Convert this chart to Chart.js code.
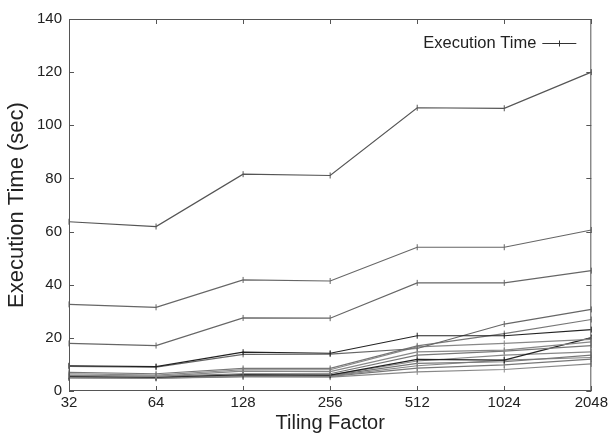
<!DOCTYPE html>
<html>
<head>
<meta charset="utf-8">
<script src="https://cdn.jsdelivr.net/npm/chart.js@4/dist/chart.umd.min.js"></script>
<style>
    html, body { margin: 0; padding: 0; background: #fff; }
    #wrap { position: relative; width: 611px; height: 436px; }
</style>
</head>
<body>
<div id="wrap"><canvas id="exec-chart"></canvas></div>
<script>
var tiling_factors = ['32', '64', '128', '256', '512', '1024', '2048'];
var y_ticks = [0, 20, 40, 60, 80, 100, 120, 140];
var legend_label = 'Execution Time';

// one array per run
var run_a = [63.7, 61.9, 81.6, 81.1, 106.6, 106.4, 120.0];
var run_b = [32.6, 31.5, 41.8, 41.4, 54.1, 54.1, 60.6];
var run_c = [17.9, 17.1, 27.5, 27.4, 40.7, 40.7, 45.3];
var run_d = [9.5, 9.2, 14.6, 14.2, 20.8, 20.8, 23.1];
var run_e = [9.3, 9.0, 13.8, 13.9, 16.0, 25.2, 30.7];
var run_f = [7.0, 6.5, 8.5, 8.5, 17.0, 21.6, 26.9];
var run_g = [6.5, 6.0, 8.0, 8.0, 16.6, 17.9, 19.4];
var run_h = [6.0, 5.5, 7.5, 7.3, 14.7, 15.4, 18.5];
var run_i = [5.8, 5.5, 6.5, 6.5, 13.5, 15.0, 17.1];
var run_j = [5.5, 5.2, 6.2, 6.0, 11.9, 11.6, 20.1];
var run_k = [5.3, 5.0, 6.0, 6.0, 11.3, 13.5, 14.7];
var run_l = [5.2, 5.0, 5.8, 5.8, 10.4, 11.0, 13.5];
var run_m = [5.0, 4.9, 5.6, 5.6, 9.5, 11.6, 12.6];
var run_n = [5.0, 4.8, 5.5, 5.5, 8.6, 9.8, 12.0];
var run_o = [4.9, 4.8, 5.3, 5.2, 7.2, 8.1, 10.2];

var runs = [run_a, run_b, run_c, run_d, run_e, run_f, run_g, run_h,
            run_i, run_j, run_k, run_l, run_m, run_n, run_o];
var run_colors = ['#555', '#666', '#666', '#222', '#666', '#777', '#888', '#888',
                  '#777', '#222', '#888', '#777', '#888', '#777', '#888'];

var font_family = 'Liberation Sans, Arial, sans-serif';

var datasets = runs.map(function (values, idx) {
    return {
        label: legend_label,
        data: values,
        borderColor: run_colors[idx],
        backgroundColor: run_colors[idx],
        borderWidth: 1.2,
        pointStyle: 'line',
        rotation: 90,
        pointRadius: 3,
        pointBorderWidth: 1,
        tension: 0
    };
});

// gnuplot-ish frame with inward ticks on all four sides, plus the key
var framePlugin = {
    id: 'frame',
    afterDraw: function (chart) {
        var ctx = chart.ctx, a = chart.chartArea;
        var xs = chart.scales.x, ys = chart.scales.y;
        ctx.save();
        ctx.strokeStyle = '#555';
        ctx.lineWidth = 1;
        ctx.strokeRect(a.left + 0.5, a.top + 0.5, a.right - a.left - 1, a.bottom - a.top - 1);
        ctx.beginPath();
        for (var i = 0; i < xs.ticks.length; i++) {
            var x = Math.round(xs.getPixelForTick(i)) + 0.5;
            ctx.moveTo(x, a.bottom); ctx.lineTo(x, a.bottom - 5);
            ctx.moveTo(x, a.top); ctx.lineTo(x, a.top + 5);
        }
        for (var j = 0; j < ys.ticks.length; j++) {
            var y = Math.round(ys.getPixelForValue(ys.ticks[j].value)) + 0.5;
            ctx.moveTo(a.left, y); ctx.lineTo(a.left + 5, y);
            ctx.moveTo(a.right, y); ctx.lineTo(a.right - 5, y);
        }
        ctx.stroke();

        // key: text right-aligned, sample line with a + to its right
        var ky = a.top + 24.5;
        var sx0 = a.right - 49, sx1 = a.right - 15;
        ctx.fillStyle = '#222';
        ctx.font = '16.5px ' + font_family;
        ctx.textAlign = 'right';
        ctx.textBaseline = 'middle';
        ctx.fillText(legend_label, sx0 - 6, ky);
        ctx.strokeStyle = '#333';
        ctx.beginPath();
        ctx.moveTo(sx0, ky); ctx.lineTo(sx1, ky);
        var mx = Math.round((sx0 + sx1) / 2) + 0.5;
        ctx.moveTo(mx, ky - 3); ctx.lineTo(mx, ky + 3);
        ctx.stroke();
        ctx.restore();
    }
};

new Chart(document.getElementById('exec-chart').getContext('2d'), {
    type: 'line',
    data: { labels: tiling_factors, datasets: datasets },
    options: {
        responsive: true,
        maintainAspectRatio: false,
        animation: false,
        layout: { padding: { top: 19, right: 19, bottom: 0, left: 0 } },
        plugins: {
            tooltip: { enabled: false },
            legend: { display: false }
        },
        scales: {
            x: {
                type: 'category',
                offset: false,
                grid: { display: false, drawTicks: false },
                border: { display: false },
                afterFit: function (scale) { scale.height = 45; },
                ticks: {
                    color: '#222',
                    padding: 3,
                    maxRotation: 0,
                    font: { family: font_family, size: 15 }
                },
                title: {
                    display: true,
                    text: 'Tiling Factor',
                    color: '#222',
                    padding: { top: 0, bottom: 1 },
                    font: { family: font_family, size: 20 }
                }
            },
            y: {
                min: 0,
                max: 140,
                afterBuildTicks: function (scale) {
                    scale.ticks = y_ticks.map(function (v) { return { value: v }; });
                },
                afterFit: function (scale) { scale.width = 69; },
                grid: { display: false, drawTicks: false },
                border: { display: false },
                ticks: {
                    color: '#222',
                    padding: 7,
                    font: { family: font_family, size: 15 }
                },
                title: {
                    display: true,
                    text: 'Execution Time (sec)',
                    color: '#222',
                    padding: { top: 4, bottom: 0 },
                    font: { family: font_family, size: 22 }
                }
            }
        }
    },
    plugins: [framePlugin]
});
</script>
</body>
</html>
